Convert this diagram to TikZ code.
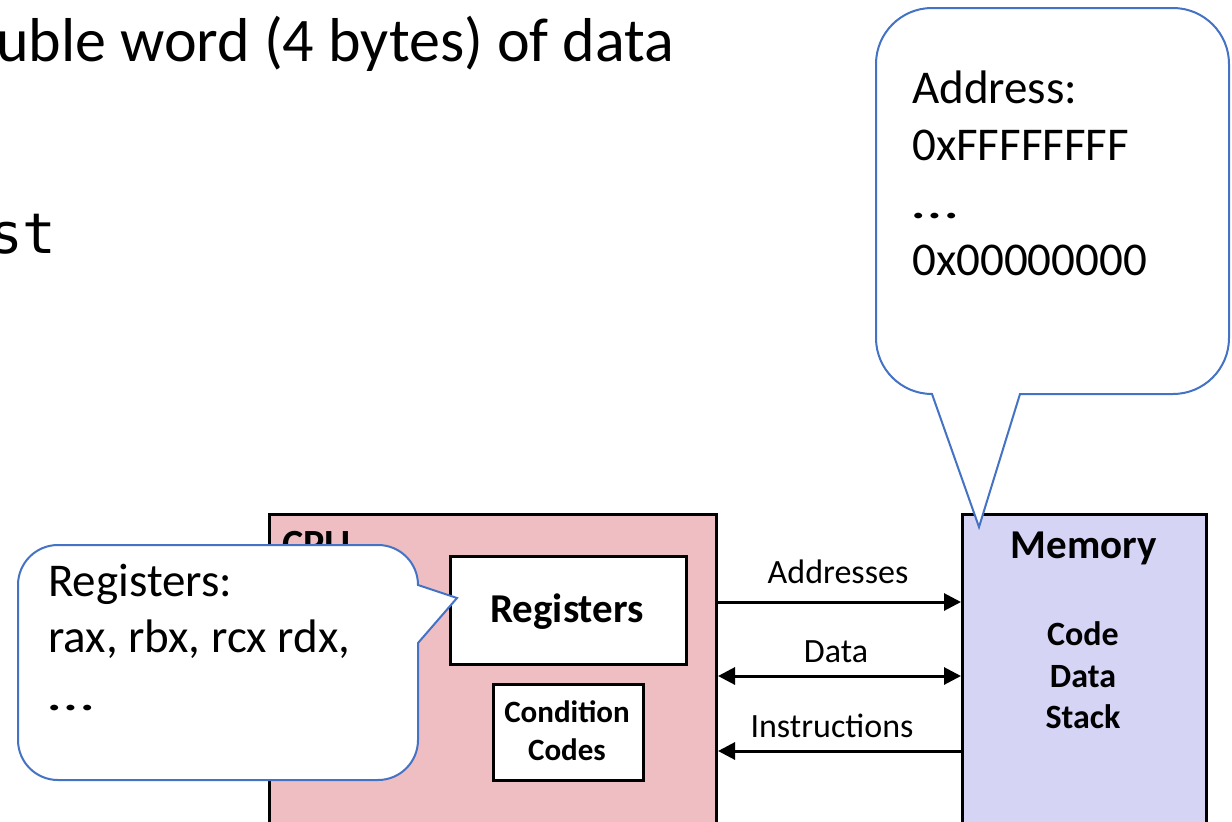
\documentclass[tikz,border=0pt]{standalone}
\usepackage{fontspec}
\setmainfont{Carlito}
\newfontfamily\codefont{DejaVu Sans Mono}
\usetikzlibrary{arrows.meta}
\definecolor{cpupink}{RGB}{239,190,194}
\definecolor{memlav}{RGB}{214,212,245}
\definecolor{callblue}{RGB}{68,114,196}
\newcommand{\wideell}{\scalebox{1.4}[1]{…}}
\tikzset{
  unitbox/.style={draw=black, line width=3pt, inner sep=0pt, anchor=north west},
  boldtxt/.style={font=\bfseries\fontsize{#1}{#1}\selectfont, inner sep=0pt},
  plaintxt/.style={font=\fontsize{#1}{#1}\selectfont, inner sep=0pt, anchor=base west},
  lbl/.style={font=\fontsize{34}{34}\selectfont, inner sep=0pt, anchor=base},
  bus/.style={line width=3pt},
  bustip/.tip={Triangle[length=17pt,width=17pt]},
  callout/.style={draw=callblue, fill=white, line width=2pt, line join=miter}
}
\begin{document}
\begin{tikzpicture}[x=1pt,y=1pt]
\useasboundingbox (0,0) rectangle (1232,-822);
% heading text (cut off at the left, as in the reference)
\node[plaintxt=62] (head) at (-4,-61) {uble word (4 bytes) of data};
\node[anchor=base west, inner sep=0pt, font=\codefont\fontsize{56}{56}\selectfont] (mono) at (-11,-253) {st};
% CPU
\node[unitbox, fill=cpupink, minimum width=447pt, minimum height=330pt] (cpu) at (268,-513) {};
\node[boldtxt=40, anchor=north west] (cpulbl) at (282,-531) {CPU};
\node[unitbox, fill=white, minimum width=236pt, minimum height=108pt] (regs) at (449,-555) {};
\node[boldtxt=41, anchor=base] (regstxt) at (567,-622) {Registers};
\node[unitbox, fill=white, minimum width=150pt, minimum height=96pt] (cc) at (492,-683) {};
\node[boldtxt=31, anchor=base] (cc1) at (567,-722) {Condition};
\node[boldtxt=31, anchor=base] (cc2) at (567,-760) {Codes};
% Memory
\node[unitbox, fill=memlav, minimum width=244pt, minimum height=330pt] (mem) at (961,-513) {};
\node[boldtxt=41, anchor=base] (memtxt) at (1084,-558) {Memory};
\node[boldtxt=34, anchor=base] (m1) at (1083,-645) {Code};
\node[boldtxt=34, anchor=base] (m2) at (1083,-687) {Data};
\node[boldtxt=34, anchor=base] (m3) at (1083,-728) {Stack};
% buses
\coordinate (ya) at (0,-602);
\coordinate (yd) at (0,-676);
\coordinate (yi) at (0,-751);
\draw[bus, -{bustip}] (cpu.east |- ya) -- (mem.west |- ya);
\draw[bus, {bustip}-{bustip}] (cpu.east |- yd) -- (mem.west |- yd);
\draw[bus, {bustip}-] (cpu.east |- yi) -- (mem.west |- yi);
\node[lbl] (la) at (838,-583) {Addresses};
\node[lbl] (ld) at (836,-662) {Data};
\node[lbl] (li) at (832,-737) {Instructions};
% Registers callout
\coordinate (rtip) at (457,-598);
\draw[callout] (58,-545) -- (378,-545) arc[start angle=90,end angle=0,radius=40]
  -- (rtip) -- (418,-643) -- (418,-740) arc[start angle=0,end angle=-90,radius=40]
  -- (58,-780) arc[start angle=-90,end angle=-180,radius=40]
  -- (18,-585) arc[start angle=180,end angle=90,radius=40] -- cycle;
\node[plaintxt=47] (r1) at (48,-596) {Registers:};
\node[plaintxt=47] (r2) at (48,-652) {rax, rbx, rcx rdx,};
\node[plaintxt=47] (r3) at (48,-710) {\wideell};
% Address callout
\coordinate (atip) at (979,-527);
\draw[callout] (932,-8) -- (1173,-8) arc[start angle=90,end angle=0,radius=56]
  -- (1229,-338) arc[start angle=0,end angle=-90,radius=56]
  -- (1020,-394) -- (atip) -- (932,-394)
  arc[start angle=-90,end angle=-180,radius=56]
  -- (876,-64) arc[start angle=180,end angle=90,radius=56] -- cycle;
\node[plaintxt=47] (a1) at (912,-103) {Address:};
\node[plaintxt=47] (a2) at (912,-160) {0xFFFFFFFF};
\node[plaintxt=47] (a3) at (912,-218) {\wideell};
\node[plaintxt=47] (a4) at (912,-275) {0x00000000};
\end{tikzpicture}
\end{document}
